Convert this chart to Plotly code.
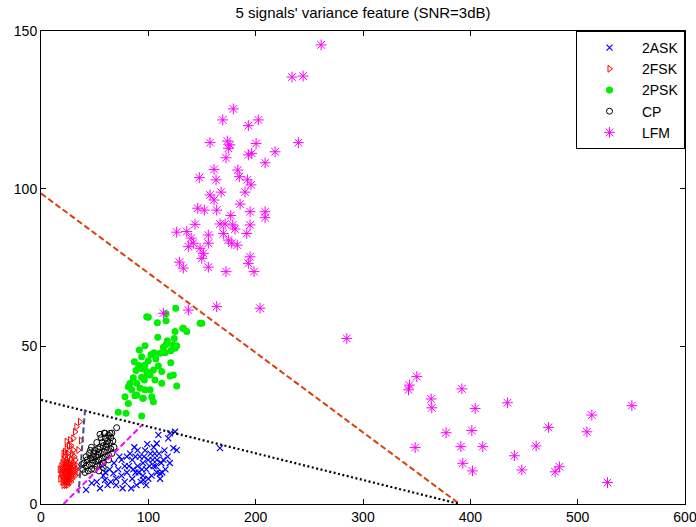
import plotly.graph_objects as go

# ---------------- data ----------------
ask_x = [42, 47.2, 55, 59.6, 67.4, 52, 62, 58, 65, 70, 72, 75, 78, 80, 82, 85, 85, 88, 90, 92,
         95, 95, 98, 100, 100, 102, 105, 105, 108, 108, 110, 112, 115, 118, 120, 123.3, 126.5,
         109.4, 120.2, 124.9, 107.8, 118.6, 166.8, 75, 78, 83, 87, 90, 97, 93, 89, 103, 113, 116,
         76, 70, 64, 68, 73, 80, 86, 91, 96, 99, 104, 107, 111, 98, 84, 88, 94, 101, 106, 114,
         60, 57, 95.3, 110.9]
ask_y = [4.5, 6.6, 5.0, 7.6, 9.7, 7, 6, 9, 7, 8, 11, 9, 7, 10, 12, 8, 14, 10, 12, 15,
         9, 13, 11, 14, 8, 16, 12, 18, 10, 14, 16, 13, 17, 15, 13, 17.7, 17.1,
         21.9, 22.4, 22.9, 19.2, 20.8, 17.7, 14, 12, 16, 18, 17, 17, 7, 6, 9, 10, 11,
         5, 6, 11, 13, 15, 15, 11, 10, 15, 19, 14, 12, 8, 6, 5, 15, 11, 12, 16, 14,
         10, 12, 7.6, 9.7]

fsk_x = [36.3, 31.7, 37.3, 23.9, 27.0, 30.1, 22.4, 30.1, 34.8, 33, 28,
         18, 19, 19, 20, 20, 20, 20, 21, 21, 21, 21, 22, 22, 22, 22, 22, 23, 23, 23, 23,
         24, 24, 24, 24, 24, 25, 25, 25, 25, 25, 26, 26, 26, 26, 26, 27, 27, 27, 28, 28, 28, 28,
         29, 29, 29, 29, 30, 30, 30, 31, 31, 32, 32, 33, 34, 35, 19, 23, 27, 21, 17.5, 24, 26, 31]
fsk_y = [26.1, 22.9, 20.1, 19.8, 20.3, 20.8, 16.6, 17.1, 17.1, 24.5, 18.5,
         8, 10, 12, 7, 9, 11, 13, 6, 8, 10, 14, 7, 9, 11, 12, 15, 6, 8, 10, 13,
         7, 9, 11, 12, 14, 6, 8, 10, 13, 16, 7, 9, 11, 12, 15, 8, 10, 13, 7, 9, 11, 14,
         8, 10, 12, 16, 9, 11, 13, 10, 12, 9, 14, 11, 12, 10, 9.5, 11.5, 11.5, 16, 11, 17.5, 18.5, 15]

psk_x = [125.5, 116.5, 100.0, 108.4, 116.5, 98.5, 149.8, 132.1, 132.6, 135.8, 124.9, 148.2,
         108.8, 124.2, 117.7, 116.5, 96.9, 122.7, 126.5, 114.0, 124.9, 91.6, 120.9, 105.3,
         110.9, 115.6, 102.5, 93.8, 87.0, 100.0, 96.9, 120.9, 93.8, 109.3, 88.5, 98.5, 104.7,
         112.5, 120.2, 123.3, 101.6, 93.8, 106.2, 112.5, 82.9, 89.2, 96.3, 126.5, 81.4, 92.3,
         84.5, 96.9, 101.6, 87.6, 78.3, 94.8, 103.2, 104.7, 81.4, 72.0, 79.2, 93.8, 89.2,
         95.3, 99, 91, 107, 86]
psk_y = [62.1, 60.3, 59.2, 57.5, 58.1, 59.4, 57.3, 55.7, 55.7, 54.7, 54.7, 57.3,
         52.9, 52.5, 51.8, 50.6, 50.2, 50.4, 50.2, 49.7, 49.4, 48.8, 48.6, 48.0,
         47.8, 48.0, 47.3, 46.7, 45.1, 45.4, 44.1, 44.8, 43.0, 43.8, 42.3, 42.0, 42.5,
         42.0, 40.6, 40.9, 40.9, 40.2, 39.3, 38.3, 38.3, 38.3, 39.3, 37.4, 37.2, 36.7,
         36.2, 36.2, 36.2, 34.3, 34.0, 33.5, 34.0, 32.4, 31.9, 29.1, 28.8, 27.9, 34.6,
         33.5, 41, 44, 46, 40]

cp_x = [70.5, 66, 63, 60, 67, 64, 61, 58, 68, 65, 62, 59, 56, 53, 57, 54, 51, 48, 45, 42, 39,
        49, 46, 50, 55, 52, 47, 44, 41, 60, 63, 58, 55, 50, 53, 57, 62, 65, 49, 45, 43, 40,
        47, 52, 56, 59, 54, 51, 48, 61, 66, 63, 38, 42, 46, 58, 54, 55, 64.3, 59.6]
cp_y = [24.2, 22.5, 21.8, 21, 20, 19.5, 19, 18.5, 18, 17.5, 17, 16.5, 16, 15.5, 14.5, 14, 13.5,
        13, 12.5, 12, 11, 15, 14.5, 17, 18, 12, 11, 10.5, 10, 15, 15.5, 13, 12.5, 11, 17.5, 19.5,
        20, 21, 16, 16, 14, 13, 18, 19.5, 21, 22.5, 16.5, 15, 14, 18, 16, 14, 12.5, 15, 17,
        11.5, 10.5, 22.1, 22.4, 22.4]

lfm_x = [261, 233.9, 244.2, 179.2, 169.3, 202.5, 193.2, 157.5, 173.6, 176.1, 174.6, 200.4,
         239.8, 218.1, 193.2, 196.3, 172.4, 208.8, 161.2, 183.3, 147.5, 163.1, 184.8, 192.3,
         195.7, 190.1, 167.8, 157.5, 161.2, 185.5, 146.0, 152.2, 163.7, 176.8, 194.8, 208.8,
         208.8, 143.5, 166.8, 171.5, 178.6, 180.8, 194.8, 126.4, 135.8, 139.9, 155.9, 169.9,
         191.7, 141.9, 155.9, 174.6, 177.7, 182.9, 137.3, 148.2, 151.3, 149.8, 194.8, 193.2,
         128.9, 132.6, 155.9, 172.4, 198.5, 163.7, 204.1, 114.0, 137.3,
         284.9, 350.1, 343.3, 342.4, 392.1, 363.5, 364.1, 404.5, 434.6, 513.2, 550.5, 377.4,
         401.4, 472.8, 508.6, 348.6, 391.2, 411.6, 461.3, 441.1, 393.0, 402.0, 448.0, 479.0,
         483.0, 527.8]
lfm_y = [145.6, 135.4, 135.7, 125.3, 121.8, 121.8, 120.0, 114.6, 115.1, 113.9, 112.8, 114.3,
         114.6, 111.7, 110.7, 111.2, 109.8, 108.2, 106.1, 105.9, 103.5, 102.8, 103.8, 102.8,
         101.2, 98.9, 98.9, 98.0, 96.4, 95.1, 93.8, 93.2, 93.2, 91.5, 92.7, 92.7,
         90.8, 88.7, 88.8, 88.8, 88.5, 87.2, 88.5, 86.2, 86.4, 84.3, 85.3, 85.8,
         85.8, 82.7, 82.7, 83.7, 82.7, 82.1, 81.6, 81.1, 79.5, 77.9, 78.4, 76.3,
         76.7, 74.8, 75.1, 73.7, 73.7, 62.6, 62.1, 60.5, 61.5,
         52.5, 40.4, 37.7, 36.2, 36.5, 33.3, 30.5, 30.3, 32.1, 28.2, 31.2, 22.6,
         23.3, 24.3, 22.9, 17.9, 18.2, 18.2, 18.4, 15.3, 12.9, 10.5, 10.8, 10.2,
         11.8, 6.8]

# decision boundaries (endpoints)
line_red_x, line_red_y = [0, 390], [98.5, 0]
line_dot_x, line_dot_y = [0, 390], [33, 0]
line_blue_x, line_blue_y = [41, 35], [30, 3.4]
line_mag_x, line_mag_y = [21, 94], [0, 25]

x_ticks = [0, 100, 200, 300, 400, 500, 600]
y_ticks = [0, 50, 100, 150]

FONT = "Liberation Sans, Arial, sans-serif"

fig = go.Figure()

fig.add_trace(go.Scatter(x=ask_x, y=ask_y, mode="markers", name="2ASK",
                         marker=dict(symbol="x-thin-open", size=6, color="#0000ff",
                                     line=dict(width=1.2, color="#0000ff"))))
fig.add_trace(go.Scatter(x=fsk_x, y=fsk_y, mode="markers", name="2FSK",
                         marker=dict(symbol="triangle-right-open", size=6, color="#ff0000",
                                     line=dict(width=1, color="#ff0000"))))
fig.add_trace(go.Scatter(x=psk_x, y=psk_y, mode="markers", name="2PSK",
                         marker=dict(symbol="circle", size=7, color="#00ee00")))
fig.add_trace(go.Scatter(x=cp_x, y=cp_y, mode="markers", name="CP",
                         marker=dict(symbol="circle-open", size=6, color="#000000",
                                     line=dict(width=1, color="#000000"))))
fig.add_trace(go.Scatter(x=lfm_x, y=lfm_y, mode="markers", name="LFM",
                         marker=dict(symbol="asterisk-open", size=9, color="#ff00ff",
                                     line=dict(width=1, color="#ff00ff"))))

fig.add_trace(go.Scatter(x=line_red_x, y=line_red_y, mode="lines", showlegend=False,
                         line=dict(color="#d9400a", width=2, dash="6px,3px")))
fig.add_trace(go.Scatter(x=line_dot_x, y=line_dot_y, mode="lines", showlegend=False,
                         line=dict(color="#000000", width=2.2, dash="2px,2.5px")))
fig.add_trace(go.Scatter(x=line_blue_x, y=line_blue_y, mode="lines", showlegend=False,
                         line=dict(color="#3a5580", width=2, dash="6px,3px")))
fig.add_trace(go.Scatter(x=line_mag_x, y=line_mag_y, mode="lines", showlegend=False,
                         line=dict(color="#ff00ff", width=2, dash="6px,3px")))

axis_common = dict(showgrid=False, zeroline=False, showline=True, linecolor="black",
                   linewidth=1, mirror="ticks", ticks="inside", ticklen=5, tickwidth=1,
                   tickcolor="black", automargin=False, ticklabeloverflow="allow",
                   tickfont=dict(family=FONT, size=14, color="black"))

fig.update_layout(
    width=696, height=527,
    margin=dict(l=41, r=11, t=31, b=23),
    paper_bgcolor="white", plot_bgcolor="white",
    title=dict(text="5 signals' variance feature (SNR=3dB)", x=0.5, xref="paper",
               xanchor="center", y=1 - 13 / 527, yref="container", yanchor="middle",
               font=dict(family=FONT, size=15, color="black")),
    xaxis=dict(range=[0, 600], tickvals=x_ticks, ticktext=[str(v) for v in x_ticks], **axis_common),
    yaxis=dict(range=[0, 150], tickvals=y_ticks, ticktext=[str(v) for v in y_ticks], **axis_common),
    legend=dict(x=1, y=1, xanchor="right", yanchor="top", bgcolor="white",
                bordercolor="black", borderwidth=1, itemwidth=55,
                font=dict(family=FONT, size=14, color="black")),
    showlegend=True,
)

fig.write_html("out.html", post_script="document.body.style.margin='0';",
               config={"displayModeBar": False})
